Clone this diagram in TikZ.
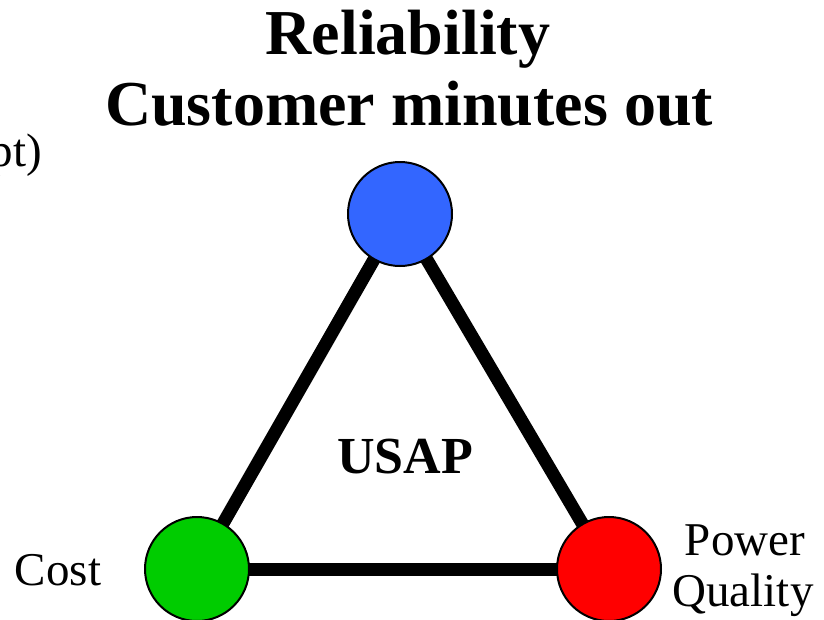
\documentclass[tikz,border=0pt]{standalone}
\usepackage{fontspec}
\setmainfont{Liberation Serif}
\definecolor{cblue}{HTML}{3366FF}
\definecolor{cgreen}{HTML}{00CC00}
\definecolor{cred}{HTML}{FF0000}
\begin{document}
\begin{tikzpicture}[x=1pt,y=1pt,
  vertex/.style={circle,draw=black,line width=2pt,minimum size=104pt,inner sep=0pt},
  edge/.style={line width=13pt},
  bigtitle/.style={font=\fontsize{64}{71}\selectfont\bfseries,anchor=base,inner sep=0pt},
  label/.style={font=\fontsize{47}{52}\selectfont,inner sep=0pt}]
\useasboundingbox (0,0) rectangle (824,-619);
\coordinate (pb) at (400,-214);
\coordinate (pg) at (197,-569);
\coordinate (pr) at (609,-569);
\draw[edge] (pb) -- (pg);
\draw[edge] (pb) -- (pr);
\draw[edge] (pg) -- (pr);
\node[vertex,fill=cblue] (blue) at (pb) {};
\node[vertex,fill=cgreen] (green) at (pg) {};
\node[vertex,fill=cred] (red) at (pr) {};
\node[bigtitle] (t1) at (408,-54) {Reliability};
\node[bigtitle] (t2) at (409,-125) {Customer minutes out};
\node[label,anchor=base east] (pt) at (42,-166) {pt)};
\node[label,anchor=base] (cost) at (58,-585) {Cost};
\node[label,anchor=base] (power) at (745,-555) {Power};
\node[label,anchor=base] (quality) at (743,-606) {Quality};
\node[font=\fontsize{52}{58}\selectfont\bfseries,anchor=base,inner sep=0pt] (usap) at (405,-473) {USAP};
\end{tikzpicture}
\end{document}
